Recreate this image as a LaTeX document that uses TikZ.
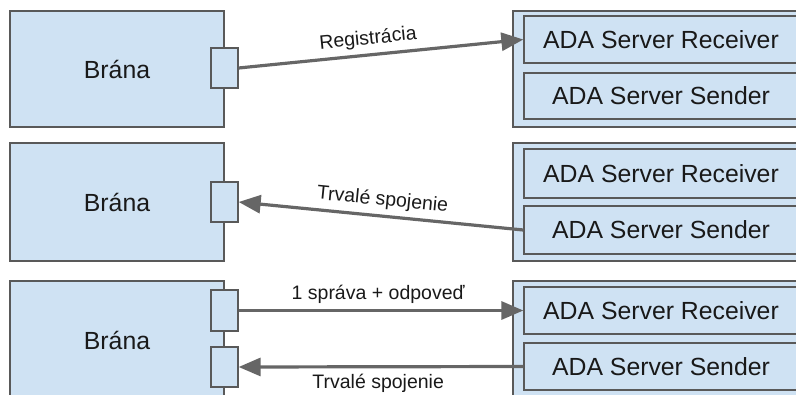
\documentclass[tikz,border=0pt]{standalone}
\usepackage{fontspec}
\setmainfont{Liberation Sans}
\usetikzlibrary{arrows.meta}
\definecolor{boxfill}{HTML}{CFE2F3}
\definecolor{boxline}{HTML}{595959}
\definecolor{arrcol}{HTML}{666666}
\tikzset{
  box/.style={draw=boxline, fill=boxfill, line width=1.3pt, inner sep=0pt, text=black!90, font=\fontsize{24.8}{28}\selectfont},
  port/.style={box, minimum width=27pt, minimum height=40pt},
  arr/.style={draw=arrcol, line width=3.2pt, -{Triangle[length=22pt,width=18pt]}},
  lab/.style={font=\fontsize{19.5}{22}\selectfont, inner sep=5pt, text=black!90}
}
\begin{document}
\begin{tikzpicture}[x=1pt,y=-1pt]
\useasboundingbox (0,0) rectangle (796,394);
\clip (0,0) rectangle (796,394);
% Row 1
\node[box, minimum width=214pt, minimum height=116pt] (b1) at (117,69) {Brána};
\node[port] (p1) at (224.5,68) {};
\node[box, minimum width=297pt, minimum height=116pt] (o1) at (661.5,69) {};
\node[box, minimum width=274pt, minimum height=47pt] (r1) at (661,39.5) {ADA Server Receiver};
\node[box, minimum width=274pt, minimum height=46pt] (s1) at (661,96) {ADA Server Sender};
\draw[arr] (p1.east) -- node[lab, sloped, above, pos=0.46] {Registrácia} (r1.west);
% Row 2
\node[box, minimum width=214pt, minimum height=118pt] (b2) at (117,202) {Brána};
\node[port] (p2) at (224.5,202) {};
\node[box, minimum width=297pt, minimum height=118pt] (o2) at (661.5,202) {};
\node[box, minimum width=274pt, minimum height=49pt] (r2) at (661,173.5) {ADA Server Receiver};
\node[box, minimum width=274pt, minimum height=48pt] (s2) at (661,230) {ADA Server Sender};
\draw[arr] (s2.west) -- node[lab, sloped, above, pos=0.5] {Trvalé spojenie} (p2.east);
% Row 3
\node[box, minimum width=214pt, minimum height=118pt] (b3) at (117,340) {Brána};
\node[port, minimum height=41pt] (p3a) at (224.5,310.5) {};
\node[port] (p3b) at (224.5,367) {};
\node[box, minimum width=297pt, minimum height=118pt] (o3) at (661.5,340) {};
\node[box, minimum width=274pt, minimum height=47pt] (r3) at (661,310.5) {ADA Server Receiver};
\node[box, minimum width=274pt, minimum height=47pt] (s3) at (661,366.5) {ADA Server Sender};
\draw[arr] (p3a.east) -- node[lab, above, pos=0.49] {1 správa + odpoveď} (r3.west);
\draw[arr] (s3.west) -- node[lab, below, pos=0.51, inner sep=5.5pt] {Trvalé spojenie} (p3b.east);
\end{tikzpicture}
\end{document}
